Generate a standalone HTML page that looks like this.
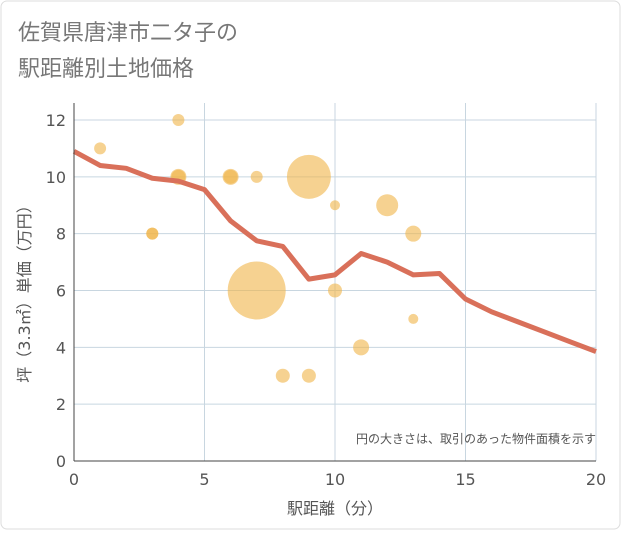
<!DOCTYPE html>
<html><head><meta charset="utf-8"><style>
body{margin:0;background:#fff;}
svg text{font-family:"DejaVu Sans","Noto Sans CJK JP",sans-serif;}
</style></head><body>
<svg width="621" height="530" xmlns="http://www.w3.org/2000/svg">
<rect x="1" y="1" width="619" height="528" rx="6" fill="#fff" stroke="#ddd"/>
<text x="18" y="40" font-size="22" fill="#777">佐賀県唐津市二タ子の</text>
<text x="18" y="76" font-size="22" fill="#777">駅距離別土地価格</text>
<g id="grid"></g>
<g id="bubbles"></g>
<g id="line"></g>
<g id="axes"></g>
<text x="596" y="443" font-size="12" fill="#555" text-anchor="end">円の大きさは、取引のあった物件面積を示す</text>
<text x="335" y="514" font-size="16" fill="#555" text-anchor="middle">駅距離（分）</text>
<text transform="translate(30,290) rotate(-90)" font-size="16" fill="#555" text-anchor="middle">坪（3.3㎡）単価（万円）</text>
</svg>
<script>
const xTicks=[0,5,10,15,20];
const yTicks=[0,2,4,6,8,10,12];
const bubbleX=[1,4,4,4,6,6,7,9,10,12,13,3,3,7,10,13,11,8,9];
const bubbleY=[11,12,10,10,10,10,10,10,9,9,8,8,8,6,6,5,4,3,3];
const bubbleR=[6,6,8,7,8,7,6,22,5,11,8,6,6,29,7,5,8,7,7];
const lineX=[0,1,2,3,4,5,6,7,8,9,10,11,12,13,14,15,16,17,18,19,20];
const lineY=[10.9,10.4,10.3,9.95,9.85,9.55,8.45,7.75,7.55,6.4,6.55,7.3,7.0,6.55,6.6,5.7,5.25,4.9,4.55,4.2,3.85];
const NS="http://www.w3.org/2000/svg";
const X0=74,X1=596,Y0=461,Y1=120;
const sx=v=>X0+(X1-X0)*v/20;
const sy=v=>Y0-(Y0-Y1)*v/12;
function mk(t,a,p){const e=document.createElementNS(NS,t);for(const k in a)e.setAttribute(k,a[k]);p.appendChild(e);return e;}
const grid=document.getElementById('grid'),axes=document.getElementById('axes');
mk('rect',{x:X0,y:103,width:X1-X0,height:Y0-103,fill:'#fff'},grid);
xTicks.forEach(v=>{
 const l=mk('line',{x1:sx(v),x2:sx(v),y1:103,y2:Y0,stroke:'#c8d6e0'},grid);
 
 
 const t=mk('text',{x:sx(v),y:Y0+24,'font-size':16,fill:'#555','text-anchor':'middle'},axes);
 t.textContent=v;
 
 
});
yTicks.forEach(v=>{
 const l=mk('line',{x1:X0,x2:X1,y1:sy(v),y2:sy(v),stroke:'#c8d6e0'},grid);
 
 
 const t=mk('text',{x:X0-8,y:sy(v)+6,'font-size':16,fill:'#555','text-anchor':'end'},axes);
 t.textContent=v;
 
 
});
const ax=mk('line',{x1:X0,x2:X1,y1:Y0,y2:Y0,stroke:'#444','stroke-width':1},axes);


const ay=mk('line',{x1:X0,x2:X0,y1:103,y2:Y0,stroke:'#444','stroke-width':1},axes);


const bg=document.getElementById('bubbles');
bubbleX.forEach((v,i)=>{
 const c=mk('circle',{cx:sx(v),cy:sy(bubbleY[i]),r:bubbleR[i],fill:'#f0b448','fill-opacity':0.6},bg);
 
 
});
const p=mk('polyline',{points:lineX.map((v,i)=>sx(v)+','+sy(lineY[i])).join(' '),fill:'none',stroke:'#d9705a','stroke-width':5,'stroke-linejoin':'round'},document.getElementById('line'));


</script>
</body></html>
